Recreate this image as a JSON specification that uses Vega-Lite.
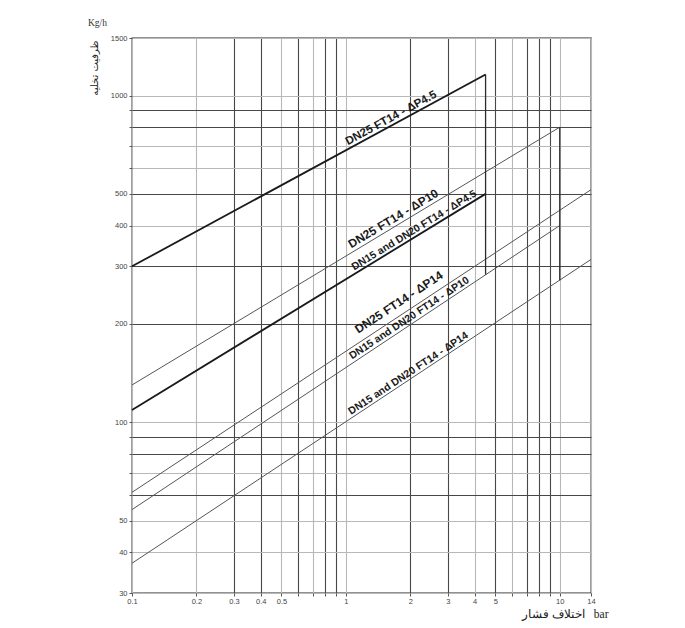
{
  "$schema": "https://vega.github.io/schema/vega-lite/v6.json",
  "width": 459,
  "height": 555,
  "autosize": "none",
  "padding": {"left": 132, "top": 38, "right": 94, "bottom": 35},
  "background": "white",
  "config": {"view": {"stroke": "#262626", "strokeWidth": 1.3}},
  "title": {"text": "Kg/h", "anchor": "start", "frame": "group", "dx": -44, "offset": 7, "font": "Liberation Serif", "fontSize": 9.5, "fontWeight": "normal", "color": "#333"},
  "datasets": {
    "lines": [
      {"series": "A", "x": 0.1, "y": 300}, {"series": "A", "x": 4.5, "y": 1160},
      {"series": "B", "x": 0.1, "y": 130}, {"series": "B", "x": 10, "y": 800},
      {"series": "C", "x": 0.1, "y": 61}, {"series": "C", "x": 14, "y": 515},
      {"series": "D", "x": 0.1, "y": 109}, {"series": "D", "x": 4.5, "y": 500},
      {"series": "E", "x": 0.1, "y": 54}, {"series": "E", "x": 10, "y": 400},
      {"series": "F", "x": 0.1, "y": 37}, {"series": "F", "x": 14, "y": 315},
      {"series": "V45", "x": 4.5, "y": 1160}, {"series": "V45", "x": 4.5, "y": 283},
      {"series": "V10", "x": 10, "y": 800}, {"series": "V10", "x": 10, "y": 272}
    ],
    "labels": [
      {"series": "A", "text": "DN25 FT14 - ΔP4.5", "x": 1.68, "y": 820},
      {"series": "B", "text": "DN25 FT14 - ΔP10", "x": 1.74, "y": 400},
      {"series": "C", "text": "DN25 FT14 - ΔP14", "x": 1.9, "y": 217},
      {"series": "D", "text": "DN15 and DN20 FT14 - ΔP4.5", "x": 2.16, "y": 373},
      {"series": "E", "text": "DN15 and DN20 FT14 - ΔP10", "x": 2.05, "y": 201},
      {"series": "F", "text": "DN15 and DN20 FT14 - ΔP14", "x": 2.03, "y": 136}
    ]
  },
  "encoding": {
    "x": {
      "field": "x", "type": "quantitative",
      "scale": {"type": "log", "domain": [0.1, 14], "nice": false, "zero": false},
      "axis": {
        "values": [0.1, 0.2, 0.3, 0.4, 0.5, 0.6, 0.7, 0.8, 0.9, 1, 2, 3, 4, 5, 6, 7, 8, 9, 10, 14],
        "format": "~g",
        "labelExpr": "indexof([0.6, 0.7, 0.8, 0.9, 6, 7, 8, 9], datum.value) >= 0 ? '' : datum.label",
        "labelOverlap": false, "labelFlush": false,
        "grid": true,
        "gridColor": {"condition": {"test": "indexof([0.3, 0.4, 0.6, 0.8, 0.9, 2, 3, 5, 7, 8, 9], datum.value) >= 0", "value": "#474747"}, "value": "#b8b8b8"},
        "gridWidth": 1.1,
        "domain": false,
        "tickSize": 3, "tickColor": "#555",
        "labelFont": "Liberation Sans", "labelFontSize": 7.5, "labelColor": "#444", "labelPadding": 1,
        "title": "اختلاف فشار\u00a0\u00a0\u00a0bar",
        "titleFont": "Liberation Serif", "titleFontSize": 11.5, "titleFontWeight": "normal", "titleColor": "#222",
        "titleX": 476, "titleY": 24, "titleAlign": "right", "titleBaseline": "alphabetic"
      }
    },
    "y": {
      "field": "y", "type": "quantitative",
      "scale": {"type": "log", "domain": [30, 1500], "nice": false, "zero": false},
      "axis": {
        "values": [30, 40, 50, 60, 70, 80, 90, 100, 200, 300, 400, 500, 600, 700, 800, 900, 1000, 1500],
        "format": "~g",
        "labelExpr": "indexof([30, 40, 50, 100, 200, 300, 400, 500, 1000, 1500], datum.value) >= 0 ? datum.label : ''",
        "labelOverlap": false, "labelFlush": false,
        "grid": true,
        "gridColor": {"condition": {"test": "indexof([900, 800, 500, 300, 200, 90, 80, 60], datum.value) >= 0", "value": "#474747"}, "value": "#b8b8b8"},
        "gridWidth": 1.1,
        "domain": false,
        "tickSize": 3, "tickColor": "#555",
        "labelFont": "Liberation Sans", "labelFontSize": 7.5, "labelColor": "#444", "labelPadding": 2,
        "title": "ظرفیت تخلیه",
        "titleFont": "DejaVu Sans", "titleFontSize": 10, "titleFontWeight": "normal", "titleColor": "#222",
        "titleAngle": -90, "titleX": -38, "titleY": 2, "titleAlign": "right", "titleBaseline": "middle"
      }
    }
  },
  "layer": [
    {
      "data": {"name": "lines"},
      "transform": [{"filter": {"field": "series", "oneOf": ["B", "C", "E", "F"]}}],
      "mark": {"type": "line", "color": "#555555", "strokeWidth": 1},
      "encoding": {"detail": {"field": "series"}}
    },
    {
      "data": {"name": "lines"},
      "transform": [{"filter": {"field": "series", "oneOf": ["V45", "V10"]}}],
      "mark": {"type": "line", "color": "#2a2a2a", "strokeWidth": 1.3},
      "encoding": {"detail": {"field": "series"}}
    },
    {
      "data": {"name": "lines"},
      "transform": [{"filter": {"field": "series", "oneOf": ["A", "D"]}}],
      "mark": {"type": "line", "color": "#1a1a1a", "strokeWidth": 1.8},
      "encoding": {"detail": {"field": "series"}}
    },
    {
      "data": {"name": "labels"},
      "transform": [{"filter": {"field": "series", "equal": "A"}}],
      "mark": {"type": "text", "angle": -28.5, "font": "Liberation Sans", "fontWeight": "bold", "fontSize": 11.5, "color": "#1a1a1a", "baseline": "bottom", "align": "center", "dy": -1},
      "encoding": {"text": {"field": "text"}}
    },
    {
      "data": {"name": "labels"},
      "transform": [{"filter": {"field": "series", "equal": "B"}}],
      "mark": {"type": "text", "angle": -31, "font": "Liberation Sans", "fontWeight": "bold", "fontSize": 12, "color": "#1a1a1a", "baseline": "bottom", "align": "center", "dy": -1},
      "encoding": {"text": {"field": "text"}}
    },
    {
      "data": {"name": "labels"},
      "transform": [{"filter": {"field": "series", "equal": "C"}}],
      "mark": {"type": "text", "angle": -33.4, "font": "Liberation Sans", "fontWeight": "bold", "fontSize": 12, "color": "#1a1a1a", "baseline": "bottom", "align": "center", "dy": -5},
      "encoding": {"text": {"field": "text"}}
    },
    {
      "data": {"name": "labels"},
      "transform": [{"filter": {"field": "series", "equal": "D"}}],
      "mark": {"type": "text", "angle": -31.4, "font": "Liberation Sans", "fontWeight": "bold", "fontSize": 10.5, "color": "#1a1a1a", "baseline": "bottom", "align": "center", "dy": -1},
      "encoding": {"text": {"field": "text"}}
    },
    {
      "data": {"name": "labels"},
      "transform": [{"filter": {"field": "series", "oneOf": ["E", "F"]}}],
      "mark": {"type": "text", "angle": -33.5, "font": "Liberation Sans", "fontWeight": "bold", "fontSize": 10.5, "color": "#1a1a1a", "baseline": "bottom", "align": "center", "dy": -1},
      "encoding": {"text": {"field": "text"}}
    }
  ]
}
